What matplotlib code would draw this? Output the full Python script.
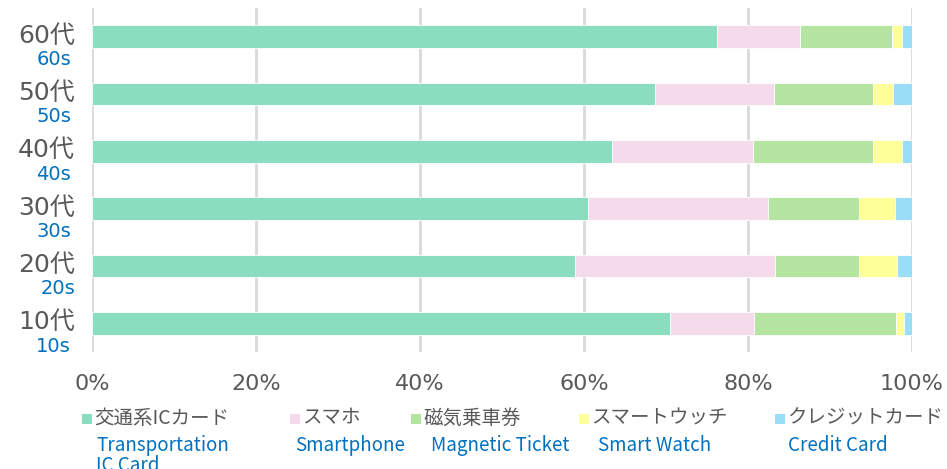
import matplotlib
matplotlib.use("Agg")
import matplotlib.pyplot as plt
from matplotlib.patches import Rectangle
import numpy as np

plt.rcParams['font.family'] = ['Noto Sans CJK JP', 'DejaVu Sans']
LATIN = ['DejaVu Sans', 'Noto Sans CJK JP']

# Data
age_ja = ["10代", "20代", "30代", "40代", "50代", "60代"]
age_en = ["10s", "20s", "30s", "40s", "50s", "60s"]
series_ja = ["交通系ICカード", "スマホ", "磁気乗車券", "スマートウッチ", "クレジットカード"]
series_en = ["Transportation\nIC Card", "Smartphone", "Magnetic Ticket", "Smart Watch", "Credit Card"]
ic_card = [70.5, 58.9, 60.5, 63.4, 68.7, 76.2]
smartphone = [10.2, 24.4, 22.0, 17.2, 14.5, 10.1]
magnetic = [17.3, 10.2, 11.0, 14.6, 12.0, 11.3]
watch = [1.0, 4.7, 4.4, 3.6, 2.5, 1.2]
credit = [1.0, 1.8, 2.1, 1.2, 2.3, 1.2]
xticks = [0, 20, 40, 60, 80, 100]
xticklabels = ["0%", "20%", "40%", "60%", "80%", "100%"]

colors = ["#8ADDBE", "#F4DAEB", "#B6E5A2", "#FFFF99", "#99DDF7"]
grey_text = "#595959"
blue_text = "#0070C0"

W, H = 947, 469
fig = plt.figure(figsize=(W / 100, H / 100), dpi=100)
ax = fig.add_axes([92 / W, 1 - 352 / H, 820 / W, 344 / H])

y = np.arange(len(age_ja))
left = np.zeros(len(age_ja))
for vals, c in zip([ic_card, smartphone, magnetic, watch, credit], colors):
    ax.barh(y, vals, left=left, height=0.4, color=c, edgecolor="white", linewidth=0.6, zorder=3)
    left += np.array(vals)

ax.set_xlim(0, 100)
ax.set_ylim(-0.5, len(age_ja) - 0.5)
for s in ax.spines.values():
    s.set_visible(False)
ax.set_xticks(xticks)
ax.set_xticklabels(xticklabels, fontsize=16, color=grey_text, family=LATIN)
ax.tick_params(axis='x', length=0, pad=16)
ax.set_yticks([])
ax.grid(axis='x', color="#D9D9D9", linewidth=2, zorder=0)
ax.set_axisbelow(True)

# y labels (two-line, Japanese + English)
en_dx = [-21, -17, -21, -21, -21, -21]
for i, (ja, en) in enumerate(zip(age_ja, age_en)):
    ax.annotate(ja, xy=(0, i), xycoords='data', xytext=(-17, 1), textcoords='offset pixels',
                ha='right', va='center', fontsize=18, color=grey_text, family=LATIN)
    ax.annotate(en, xy=(0, i), xycoords='data', xytext=(en_dx[i], -23), textcoords='offset pixels',
                ha='right', va='center', fontsize=14, color=blue_text, family=LATIN)

# Legend
sq_x = [82, 290, 411, 579, 775]
en_x = [96, 295, 431, 598, 788]
for sx, ex, c, ja, en in zip(sq_x, en_x, colors, series_ja, series_en):
    fig.patches.append(Rectangle((sx / W, 1 - 424 / H), 10 / W, 10 / H, transform=fig.transFigure,
                                 facecolor=c, edgecolor='none'))
    fig.text((sx + 12) / W, 1 - 418 / H, ja, fontsize=14, color=grey_text, ha='left', va='center')
    fig.text(ex / W, 1 - 435 / H, en, fontsize=13.5, color=blue_text, ha='left', va='top',
             linespacing=0.95)

fig.savefig("out.png", dpi=100)
